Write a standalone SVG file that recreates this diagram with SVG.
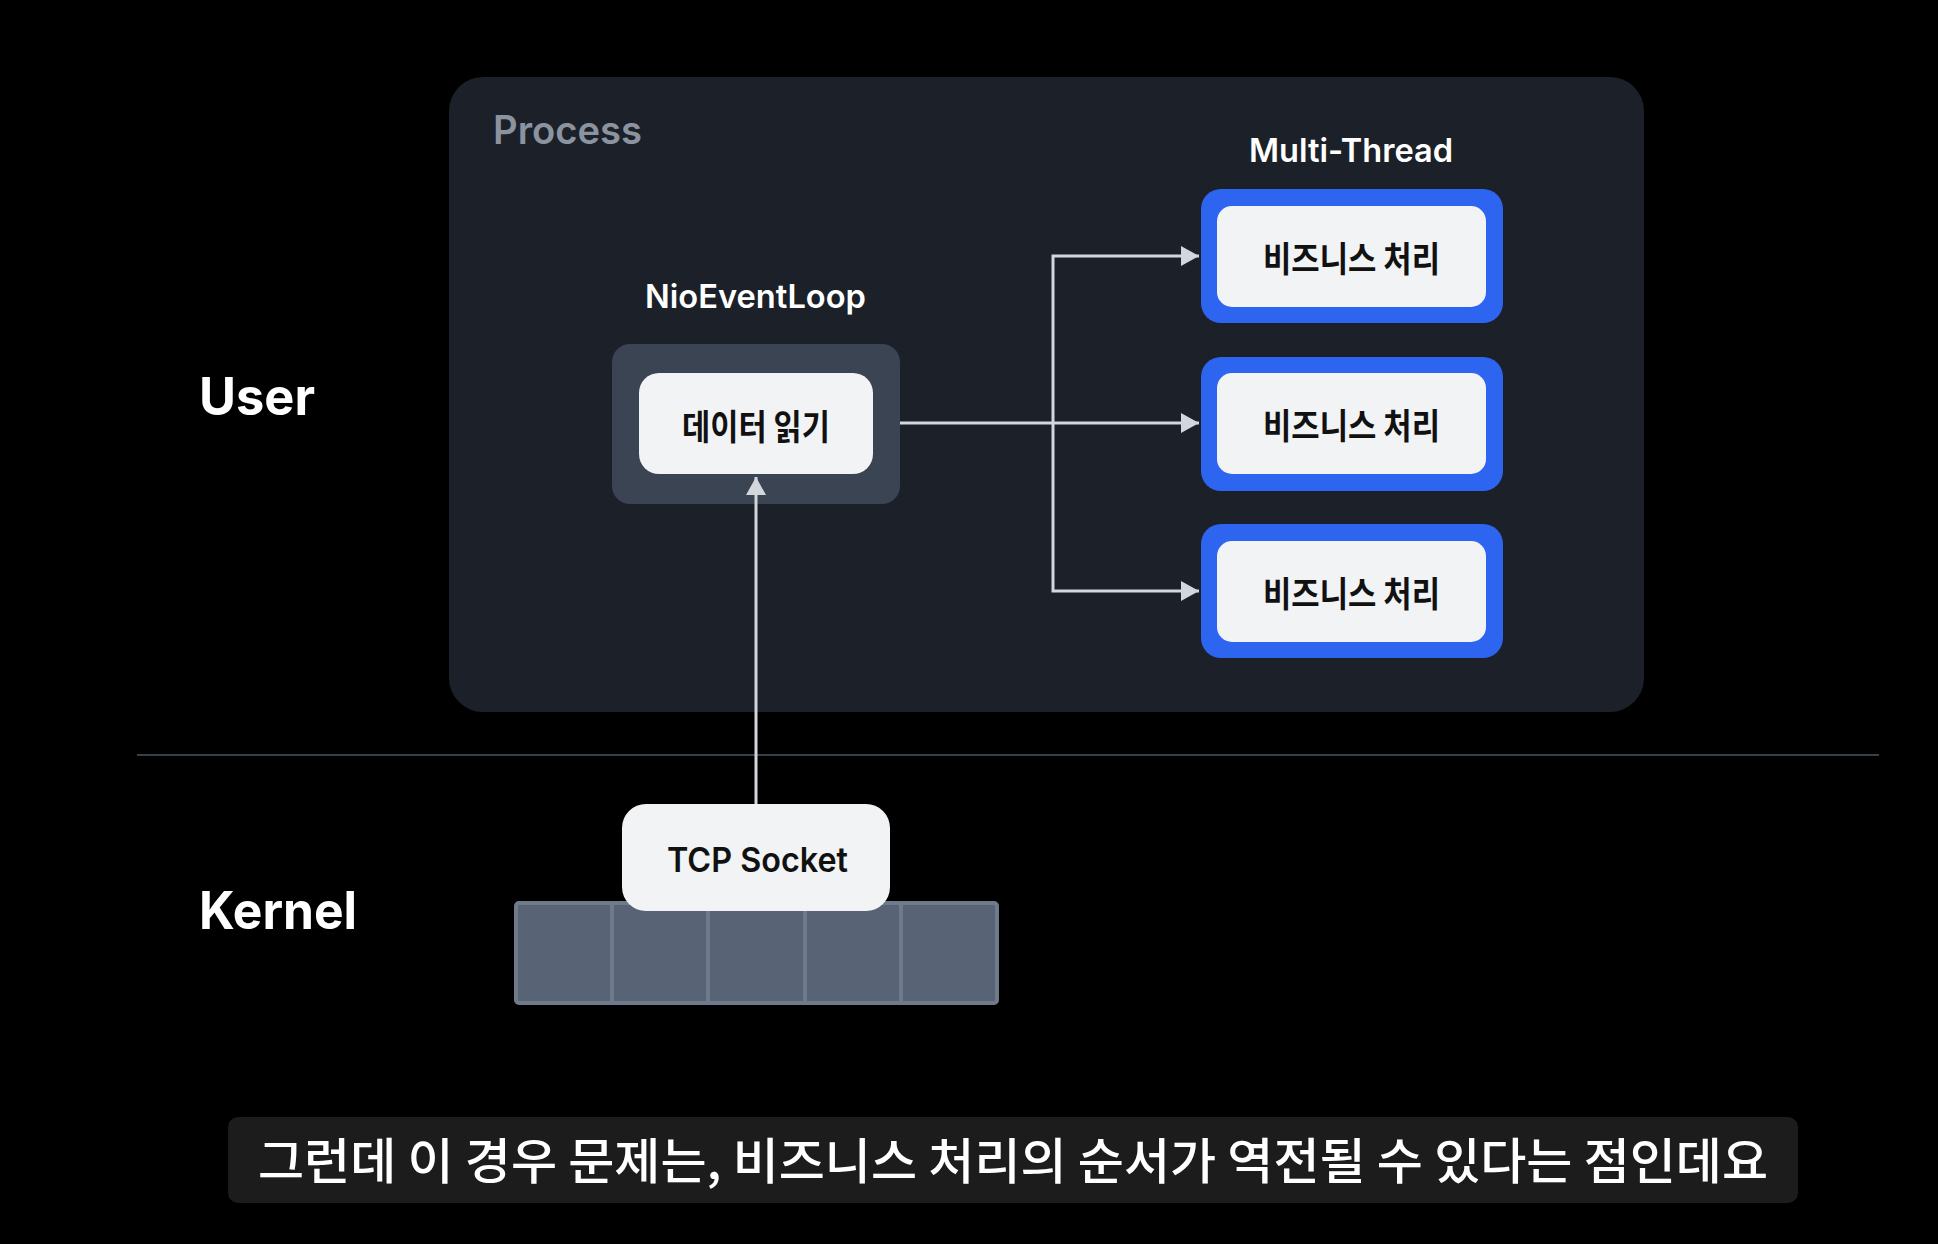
<svg xmlns="http://www.w3.org/2000/svg" width="1938" height="1244" viewBox="0 0 1938 1244">
<defs>
<style>
.lat{font-family:Inter,"Noto Sans",sans-serif}
.kr{font-family:"Noto Sans CJK KR","Noto Sans",sans-serif}
.conn{fill:none;stroke:#d3d7dd;stroke-width:3}
.white{fill:#f2f3f5}
.blue{fill:#2d65f0}
.lbl{fill:#ffffff;font-weight:600;font-size:33px}
.nodeTxt{fill:#111111;font-weight:700;font-size:35px}
.side{fill:#ffffff;font-weight:700;font-size:52px}
</style>
<marker id="ah" markerUnits="userSpaceOnUse" markerWidth="20" markerHeight="22" refX="18" refY="11" orient="auto">
<path d="M0,1 L18,11 L0,21 Z" fill="#d3d7dd"/>
</marker>
</defs>
<rect width="1938" height="1244" fill="#000000"/>

<g id="process">
<rect x="449" y="77" width="1195" height="635" rx="34" fill="#1b2029"/>
<text class="lat" x="493" y="144" font-size="39" font-weight="600" fill="#8a939f" textLength="149" lengthAdjust="spacingAndGlyphs">Process</text>
</g>

<g id="user-label"><text class="lat side" x="199" y="415" textLength="116" lengthAdjust="spacingAndGlyphs">User</text></g>
<g id="kernel-label"><text class="lat side" x="199" y="929" textLength="158" lengthAdjust="spacingAndGlyphs">Kernel</text></g>

<g id="separator"><line x1="137" y1="755" x2="1879" y2="755" stroke="#4b5564" stroke-width="1.5"/></g>

<g id="nioeventloop">
<text class="lat lbl" x="645" y="308" font-weight="500" textLength="221" lengthAdjust="spacingAndGlyphs">NioEventLoop</text>
<rect x="612" y="344" width="288" height="160" rx="18" fill="#3a4453"/>
<rect class="white" x="639" y="373" width="234" height="101" rx="20"/>
<text class="kr nodeTxt" x="682" y="440" textLength="148" lengthAdjust="spacingAndGlyphs">데이터 읽기</text>
</g>

<g id="multithread-label"><text class="lat lbl" x="1249" y="162" textLength="204" lengthAdjust="spacingAndGlyphs">Multi-Thread</text></g>

<g id="biz1">
<rect class="blue" x="1201" y="189" width="302" height="134" rx="20"/>
<rect class="white" x="1217" y="206" width="269" height="101" rx="15"/>
<text class="kr nodeTxt" x="1263" y="272" textLength="177" lengthAdjust="spacingAndGlyphs">비즈니스 처리</text>
</g>
<g id="biz2">
<rect class="blue" x="1201" y="357" width="302" height="134" rx="20"/>
<rect class="white" x="1217" y="373" width="269" height="101" rx="15"/>
<text class="kr nodeTxt" x="1263" y="439" textLength="177" lengthAdjust="spacingAndGlyphs">비즈니스 처리</text>
</g>
<g id="biz3">
<rect class="blue" x="1201" y="524" width="302" height="134" rx="20"/>
<rect class="white" x="1217" y="541" width="269" height="101" rx="15"/>
<text class="kr nodeTxt" x="1263" y="607" textLength="177" lengthAdjust="spacingAndGlyphs">비즈니스 처리</text>
</g>

<g id="queue">
<rect x="516" y="903" width="481" height="100" rx="3" fill="#586475" stroke="#6f7b8b" stroke-width="4"/>
<g stroke="#6f7b8b" stroke-width="4">
<line x1="612" y1="903" x2="612" y2="1003"/>
<line x1="708" y1="903" x2="708" y2="1003"/>
<line x1="805" y1="903" x2="805" y2="1003"/>
<line x1="901" y1="903" x2="901" y2="1003"/>
</g>
</g>

<g id="tcp-socket">
<rect class="white" x="622" y="804" width="268" height="107" rx="24"/>
<text class="lat" x="667" y="872" font-size="34" font-weight="600" fill="#111111" textLength="181" lengthAdjust="spacingAndGlyphs">TCP Socket</text>
</g>

<g id="connectors">
<path class="conn" d="M756,804 V477" marker-end="url(#ah)"/>
<path class="conn" d="M900,423 H1199" marker-end="url(#ah)"/>
<path class="conn" d="M1053,423 V256 H1199" marker-end="url(#ah)"/>
<path class="conn" d="M1053,423 V591 H1199" marker-end="url(#ah)"/>
</g>

<g id="subtitle">
<rect x="228" y="1117" width="1570" height="86" rx="10" fill="#1c1c1c"/>
<text class="kr" x="258" y="1179" font-size="49" font-weight="500" fill="#ffffff" textLength="1510" lengthAdjust="spacingAndGlyphs">그런데 이 경우 문제는, 비즈니스 처리의 순서가 역전될 수 있다는 점인데요</text>
</g>
</svg>
